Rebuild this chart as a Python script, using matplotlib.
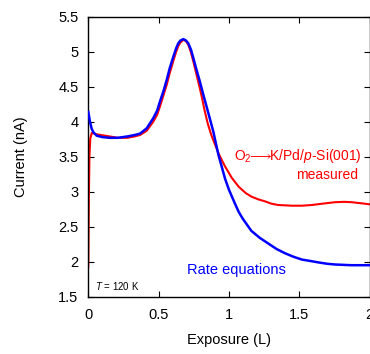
import matplotlib
matplotlib.use("Agg")
import matplotlib.pyplot as plt

plt.rcParams['font.family'] = ['Liberation Sans', 'DejaVu Sans']
plt.rcParams['mathtext.fontset'] = 'custom'
plt.rcParams['mathtext.rm'] = 'Liberation Sans'
plt.rcParams['mathtext.it'] = 'Liberation Sans:italic'
plt.rcParams['mathtext.fallback'] = 'stixsans'

# measured current (red)
meas_x = [0, 0.004, 0.008, 0.014, 0.025, 0.06, 0.12, 0.21, 0.28, 0.33, 0.368,
          0.415, 0.462, 0.49, 0.51, 0.535, 0.558, 0.58, 0.605, 0.625, 0.64,
          0.655, 0.676, 0.695, 0.711, 0.73, 0.747, 0.77, 0.794, 0.81, 0.825,
          0.85, 0.875, 0.90, 0.93, 0.97, 1.02, 1.07, 1.12, 1.16, 1.21, 1.26,
          1.30, 1.35, 1.45, 1.52, 1.59, 1.67, 1.755, 1.82, 1.873, 1.94, 2.0]
meas_y = [1.93, 2.9, 3.5, 3.76, 3.84, 3.82, 3.80, 3.77, 3.77, 3.79, 3.81,
          3.87, 4.00, 4.10, 4.22, 4.38, 4.53, 4.70, 4.87, 5.00, 5.08,
          5.13, 5.17, 5.15, 5.10, 4.99, 4.86, 4.67, 4.47, 4.33, 4.18,
          3.97, 3.81, 3.68, 3.53, 3.37, 3.20, 3.07, 2.98, 2.93, 2.89, 2.86,
          2.83, 2.81, 2.80, 2.80, 2.81, 2.83, 2.85, 2.855, 2.85, 2.835, 2.82]

# rate equations (blue)
rate_x = [0, 0.006, 0.012, 0.024, 0.036, 0.06, 0.10, 0.15, 0.21, 0.28, 0.33,
          0.368, 0.415, 0.462, 0.49, 0.51, 0.535, 0.558, 0.58, 0.605, 0.625,
          0.64, 0.655, 0.676, 0.695, 0.711, 0.73, 0.747, 0.77, 0.794, 0.82,
          0.842, 0.865, 0.889, 0.925, 0.95, 0.972, 1.0, 1.043, 1.07, 1.10,
          1.16, 1.22, 1.28, 1.34, 1.40, 1.46, 1.52, 1.58, 1.636, 1.70, 1.755,
          1.87, 2.0]
rate_y = [4.14, 4.07, 4.00, 3.90, 3.85, 3.80, 3.78, 3.77, 3.77, 3.79, 3.81,
          3.83, 3.905, 4.05, 4.16, 4.29, 4.44, 4.60, 4.77, 4.93, 5.05,
          5.12, 5.16, 5.18, 5.16, 5.12, 5.03, 4.91, 4.74, 4.57, 4.37,
          4.21, 4.04, 3.86, 3.53, 3.35, 3.19, 3.03, 2.83, 2.71, 2.61,
          2.44, 2.34, 2.26, 2.18, 2.12, 2.07, 2.03, 2.01, 1.99, 1.97, 1.96,
          1.95, 1.95]

xticks = [0, 0.5, 1, 1.5, 2]
xticklabels = ['0', '0.5', '1', '1.5', '2']
yticks = [1.5, 2, 2.5, 3, 3.5, 4, 4.5, 5, 5.5]
yticklabels = ['1.5', '2', '2.5', '3', '3.5', '4', '4.5', '5', '5.5']

fig = plt.figure(figsize=(3.70, 3.54), dpi=100)
ax = fig.add_axes([88.3 / 370, 57.3 / 354, 281.2 / 370, 280 / 354])

ax.plot(meas_x, meas_y, color='#ff0000', lw=1.5, zorder=2)
ax.plot(rate_x, rate_y, color='#0000ff', lw=1.8, zorder=3)

ax.set_xlim(0, 2)
ax.set_ylim(1.5, 5.5)
ax.set_xticks(xticks)
ax.set_xticklabels(xticklabels)
ax.set_yticks(yticks)
ax.set_yticklabels(yticklabels)
ax.tick_params(direction='in', top=True, right=True, length=4, width=0.8,
               labelsize=10.5)
ax.tick_params(axis='x', pad=8)
ax.tick_params(axis='y', pad=7)
for s in ax.spines.values():
    s.set_linewidth(1.0)

ax.set_xlabel('Exposure (L)', fontsize=10.5, labelpad=8)
ax.set_ylabel('Current (nA)', fontsize=10.5, labelpad=22)

ax.text(1.945, 3.45, r'O$_2\!\!\longrightarrow\!\!$K/Pd/$\it{p}$-Si(001)', color='#ff0000',
        fontsize=10, ha='right', va='baseline')
ax.text(1.918, 3.18, 'measured', color='#ff0000', fontsize=10,
        ha='right', va='baseline')
ax.text(0.70, 1.82, 'Rate equations', color='#0000ff', fontsize=10.5,
        ha='left', va='baseline')
ax.text(0.05, 1.60, r'$\it{T}$ = 120 K', color='black', fontsize=7,
        ha='left', va='baseline')

fig.savefig('out.png', dpi=100)
plt.close(fig)
